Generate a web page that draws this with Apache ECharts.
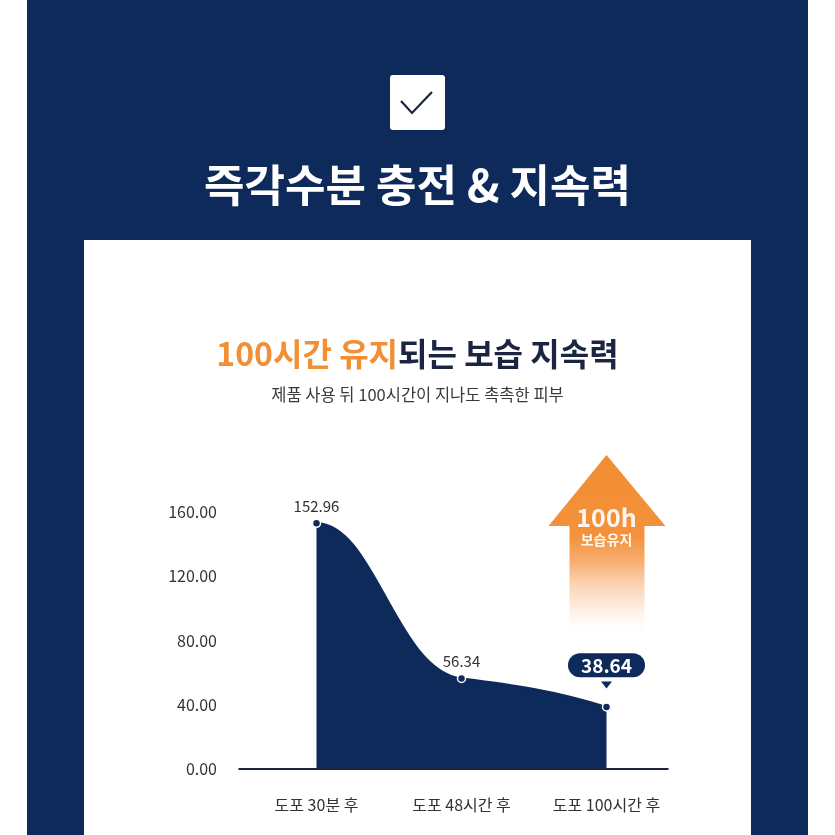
<!DOCTYPE html>
<html>
<head>
<meta charset="utf-8">
<style>html,body{margin:0;padding:0;background:#fff;}#c{width:835px;height:835px;}</style>
<script src="https://cdn.jsdelivr.net/npm/echarts@6/dist/echarts.min.js"></script>
</head>
<body>
<div id="c"></div>
<script>
const categories = ['도포 30분 후', '도포 48시간 후', '도포 100시간 후'];
const moisture = [152.96, 56.34, 38.64];
const yTicks = [0, 40, 80, 120, 160];
const headline = '즉각수분 충전 & 지속력';
const chartTitleA = '100시간 유지';
const chartTitleB = '되는 보습 지속력';
const chartSubtitle = '제품 사용 뒤 100시간이 지나도 촉촉한 피부';
const arrowText1 = '100h';
const arrowText2 = '보습유지';

const NAVY = '#0d2a5a';
const ORANGE = '#f28e35';
const FONT = '"Noto Sans CJK KR", "Noto Sans", sans-serif';

const chart = echarts.init(document.getElementById('c'), null, {renderer: 'canvas'});

const lastIdx = moisture.length - 1;
const pointData = moisture.map((v, i) => {
  if (i === lastIdx) {
    return {
      value: [i, v],
      label: {
        show: true, position: 'top', distance: 25,
        color: '#fff', fontSize: 19, fontWeight: 'bold', fontFamily: FONT,
        backgroundColor: NAVY, borderRadius: 13, padding: [3, 13, 2, 13]
      }
    };
  }
  return [i, v];
});

// smooth filled curve through the data points (drawn via the chart's own scales)
function renderArea(params, api) {
  if (params.dataIndex !== 0) return null;
  const pts = moisture.map((v, i) => api.coord([i, v]));
  const base = api.coord([0, 0])[1];
  const [p0, p1, p2] = pts;
  const d1 = p1[0] - p0[0];
  const d2 = p2[0] - p1[0];
  const s1 = 0.12, s2 = 0.32;
  const c1a = [p0[0] + 0.4 * d1, p0[1]];
  const c1b = [p1[0] - 0.45 * d1, p1[1] - s1 * 0.45 * d1];
  const c2a = [p1[0] + 0.35 * d2, p1[1] + s1 * 0.35 * d2];
  const c2b = [p2[0] - 0.35 * d2, p2[1] - s2 * 0.35 * d2];
  const f = p => p[0].toFixed(2) + ',' + p[1].toFixed(2);
  const curve = 'M' + f(p0) + ' C' + f(c1a) + ' ' + f(c1b) + ' ' + f(p1) +
    ' C' + f(c2a) + ' ' + f(c2b) + ' ' + f(p2);
  return {
    type: 'group',
    children: [
      {type: 'path', shape: {pathData: curve + ' L' + p2[0] + ',' + base + ' L' + p0[0] + ',' + base + ' Z'},
       style: {fill: NAVY, stroke: null}},
      {type: 'path', shape: {pathData: curve}, style: {fill: null, stroke: NAVY, lineWidth: 2}}
    ]
  };
}

const option = {
  backgroundColor: '#ffffff',
  animation: false,
  title: [
    {text: headline, left: 'center', top: 158,
     textStyle: {color: '#fff', fontSize: 44, fontWeight: 'bold', fontFamily: FONT}},
    {text: '{a|' + chartTitleA + '}{b|' + chartTitleB + '}', left: 'center', top: 333,
     textStyle: {rich: {
       a: {color: ORANGE, fontSize: 32, fontWeight: 'bold', fontFamily: FONT},
       b: {color: '#1b2542', fontSize: 32, fontWeight: 'bold', fontFamily: FONT}
     }}},
    {text: chartSubtitle, left: 'center', top: 381,
     textStyle: {color: '#3a3a3a', fontSize: 16.5, fontWeight: 'normal', fontFamily: FONT}}
  ],
  grid: {left: 244, right: 156, top: 512, bottom: 66, containLabel: false},
  xAxis: {
    type: 'category', data: categories, boundaryGap: true,
    axisLine: {show: false}, axisTick: {show: false},
    axisLabel: {color: '#333', fontSize: 16, margin: 28, fontFamily: FONT}
  },
  yAxis: {
    type: 'value', min: yTicks[0], max: yTicks[yTicks.length - 1], interval: 40,
    axisLine: {show: false}, axisTick: {show: false}, splitLine: {show: false},
    axisLabel: {color: '#333', fontSize: 16, margin: 27, fontFamily: FONT,
      formatter: v => v.toFixed(2)}
  },
  series: [
    {
      type: 'custom', renderItem: renderArea, data: moisture.map((v, i) => [i, v]),
      z: 2, silent: true
    },
    {
      type: 'scatter', data: pointData,
      symbol: 'circle', symbolSize: 8, z: 5,
      itemStyle: {color: NAVY, borderColor: '#fff', borderWidth: 1.5, opacity: 1},
      label: {show: true, position: 'top', distance: 5, color: '#333', fontSize: 15, fontFamily: FONT,
        formatter: p => p.value[1].toFixed(2)},
      markPoint: {
        symbol: 'path://M0,0 L10,0 L5,7 Z', symbolSize: [11, 7],
        symbolOffset: [0, -22],
        itemStyle: {color: NAVY, borderWidth: 0},
        label: {show: false},
        data: [{coord: [lastIdx, moisture[lastIdx]]}]
      }
    }
  ]
};
chart.setOption(option);

const x0 = chart.convertToPixel({xAxisIndex: 0}, categories[0]);
const xL = chart.convertToPixel({xAxisIndex: 0}, categories[lastIdx]);
const yZero = chart.convertToPixel({yAxisIndex: 0}, 0);

chart.setOption({
  graphic: [
    {type: 'rect', z: -10, silent: true, shape: {x: 27, y: 0, width: 781, height: 835}, style: {fill: NAVY}},
    {type: 'rect', z: -9, silent: true, shape: {x: 84, y: 240, width: 667, height: 600}, style: {fill: '#ffffff'}},
    {type: 'rect', z: -8, silent: true, shape: {x: 390, y: 75, width: 55, height: 55, r: 3}, style: {fill: '#ffffff'}},
    {type: 'polyline', z: -7, silent: true, shape: {points: [[401, 101], [412, 113], [432, 92]]},
     style: {stroke: '#1b2542', lineWidth: 2.2, fill: null}},
    {type: 'line', z: 10, silent: true, shape: {x1: x0 - 78, y1: yZero, x2: xL + 62, y2: yZero},
     style: {stroke: '#1b2542', lineWidth: 2}},
    {type: 'polygon', z: -5, silent: true,
     shape: {points: [[xL, 455], [xL + 59, 526], [xL + 38, 526], [xL + 38, 650], [xL - 37, 650], [xL - 37, 526], [xL - 58, 526]]},
     style: {fill: new echarts.graphic.LinearGradient(0, 0, 0, 1, [
       {offset: 0, color: '#f28c30'},
       {offset: 0.42, color: '#f3923c'},
       {offset: 0.55, color: 'rgba(246,160,90,0.85)'},
       {offset: 0.75, color: 'rgba(250,200,160,0.45)'},
       {offset: 0.95, color: 'rgba(255,255,255,0)'},
       {offset: 1, color: 'rgba(255,255,255,0)'}
     ])}},
    {type: 'text', z: -4, silent: true, style: {text: arrowText1, x: xL, y: 517, align: 'center', verticalAlign: 'middle',
      fill: 'rgba(255,255,255,0.92)', fontSize: 25, fontWeight: 'bold', fontFamily: FONT}},
    {type: 'text', z: -4, silent: true, style: {text: arrowText2, x: xL, y: 540, align: 'center', verticalAlign: 'middle',
      fill: 'rgba(255,255,255,0.92)', fontSize: 14, fontWeight: 'bold', fontFamily: FONT}}
  ]
});
</script>
</body>
</html>
